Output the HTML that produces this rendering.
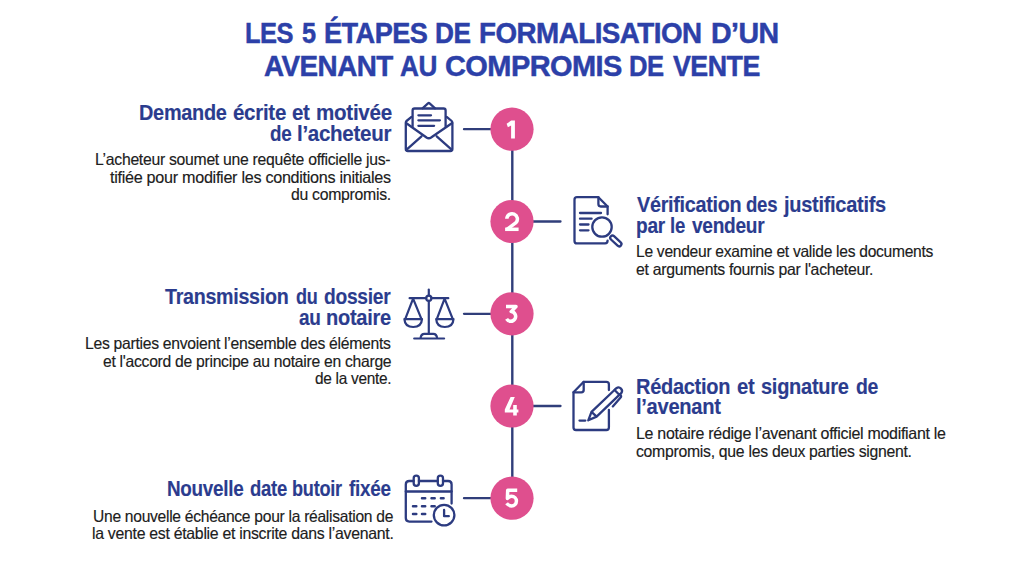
<!DOCTYPE html>
<html><head><meta charset="utf-8"><style>
html,body{margin:0;padding:0;background:#fff;}
body{width:1024px;height:572px;position:relative;overflow:hidden;font-family:"Liberation Sans",sans-serif;}
.t{position:absolute;white-space:nowrap;transform-origin:0 0;}
svg{position:absolute;left:0;top:0;}
</style></head><body>
<svg width="1024" height="572" viewBox="0 0 1024 572"><line x1="512.3" y1="129.2" x2="512.3" y2="498.2" stroke="#303e7a" stroke-width="2.4"/><line x1="464" y1="129.2" x2="495" y2="129.2" stroke="#303e7a" stroke-width="2.3" stroke-linecap="round"/><line x1="530" y1="221.5" x2="560.5" y2="221.5" stroke="#303e7a" stroke-width="2.3" stroke-linecap="round"/><line x1="464" y1="313.8" x2="495" y2="313.8" stroke="#303e7a" stroke-width="2.3" stroke-linecap="round"/><line x1="530" y1="406" x2="560.5" y2="406" stroke="#303e7a" stroke-width="2.3" stroke-linecap="round"/><line x1="464" y1="498.2" x2="495" y2="498.2" stroke="#303e7a" stroke-width="2.3" stroke-linecap="round"/><circle cx="512" cy="129.2" r="21.6" fill="#df4f8e"/><circle cx="512" cy="221.5" r="21.6" fill="#df4f8e"/><circle cx="512" cy="313.8" r="21.6" fill="#df4f8e"/><circle cx="512" cy="406" r="21.6" fill="#df4f8e"/><circle cx="512" cy="498.2" r="21.6" fill="#df4f8e"/><g fill="#fff">
<polygon points="511.2,120.6 514.9,120.6 514.9,138.6 511.1,138.6 511.1,125.4 507.9,127.2 506.6,123.8"/>
<polygon points="510.6,397 514.8,397 509.5,409.4 513.2,409.4 513.2,405 516.8,405 516.8,409.4 518.4,409.4 518.4,412.6 516.8,412.6 516.8,415.6 513.2,415.6 513.2,412.6 504.8,412.6 504.8,409.4"/>
</g>
<g fill="none" stroke="#fff" stroke-width="3.5" stroke-linejoin="miter" stroke-linecap="butt">
<path d="M506.8,218.8 A5.3,5.3 0 1 1 516,222.6 L506.6,229.6" stroke-linejoin="round"/><path d="M505.1,229.3 L518.6,229.3"/>
<path d="M506,306.6 L516,306.6 L511.2,311.6 A4.85,4.85 0 1 1 506.6,318.9" stroke-linejoin="round"/>
<path d="M517.2,490.2 L507.7,490.2 L507.4,498.4 C508.6,496.9 510,496.2 511.6,496.2 A4.85,4.85 0 0 1 511.6,505.9 C509.6,505.9 507.9,505 506.6,503.3" stroke-linejoin="round"/>
</g><g fill="none" stroke="#2c3b80" stroke-width="2.3" stroke-linecap="round" stroke-linejoin="round">
<path d="M411.5,116.9 L406.5,121 Q405.8,121.6 405.8,123 L405.8,149 Q405.8,151 407.8,151 L450.4,151 Q452.4,151 452.4,149 L452.4,123 Q452.4,121.6 451.7,121 L446.7,116.9"/>
<path d="M422.5,108.3 L428,103.4 Q428.8,102.7 429.6,103.4 L435.1,108.3"/>
<path d="M412.6,126.5 L412.6,110.5 Q412.6,108.5 414.6,108.5 L443.6,108.5 Q445.6,108.5 445.6,110.5 L445.6,126.5"/>
<path d="M406,123 L426.5,137.5 Q428.8,139 431.1,137.5 L452.2,123"/>
<path d="M406.3,149.9 L421.5,136.3 M451.9,149.9 L436.7,136.3"/>
<path d="M418.4,115.3 L431,115.3 M418.4,120.3 L439.9,120.3 M418.4,125.8 L434.1,125.8"/>
</g><g fill="none" stroke="#2c3b80" stroke-width="2.3" stroke-linecap="round" stroke-linejoin="round">
<path d="M607.6,214.3 L607.6,206.5 L598.4,197.2 L577,197.2 Q574.5,197.2 574.5,199.7 L574.5,240.9 Q574.5,243.4 577,243.4 L605.1,243.4 Q607.6,243.4 607.6,240.6"/>
<path d="M598.4,197.2 L598.4,204.1 Q598.4,206.5 600.8,206.5 L607.6,206.5"/>
<path d="M580,213 L601,213 M580,218.7 L591.6,218.7 M580,224.5 L588.5,224.5 M580,230.3 L588.5,230.3"/>
<circle cx="602" cy="227" r="9.7"/>
<rect x="609" y="238.7" width="13.6" height="4.5" rx="2.25" transform="rotate(43 615.8 241)"/>
</g><g fill="none" stroke="#2c3b80" stroke-width="2.2" stroke-linecap="round" stroke-linejoin="round">
<path d="M428.8,289.5 L428.8,295.5"/>
<circle cx="428.8" cy="298.2" r="2.6"/>
<path d="M409.6,298.2 L426.2,298.2 M431.4,298.2 L448.3,298.2"/>
<path d="M428.8,300.8 L428.8,333.5"/>
<path d="M414.2,338.5 L444.1,338.5 M420.5,338.3 Q421,333.8 424.5,333.8 L433.3,333.8 Q436.6,333.8 437.2,338.3"/>
<path d="M405.2,319.1 L413.1,298.7 L421.5,319.1"/>
<path d="M404.4,319.1 L422,319.1 Q421.5,327 413.2,327 Q404.9,327 404.4,319.1"/>
<path d="M436.8,319.1 L444.6,298.7 L452.8,319.1"/>
<path d="M436.2,319.1 L453.5,319.1 Q453,327 444.8,327 Q436.7,327 436.2,319.1"/>
</g><g fill="none" stroke="#2c3b80" stroke-width="2.3" stroke-linecap="round" stroke-linejoin="round">
<path d="M608.9,390 L608.9,384.3 Q608.9,381.8 606.4,381.8 L583.7,381.8 L573.5,392.3 L573.5,427.5 Q573.5,430 576,430 L606.4,430 Q608.9,430 608.9,427.5 L608.9,409.8"/>
<path d="M583.7,381.8 L583.7,390 Q583.7,392.3 581.4,392.3 L573.5,392.3"/>
<path d="M579.5,420.6 L585.3,420.6"/>
<path d="M588.3,420.3 L591.5,411.8 L615,389.5 M588.3,420.3 L596.6,416.6 L619.6,394.7 M591.5,411.8 L596.6,416.6"/>
<path d="M615,389.5 L616.4,388.2 A3.5,3.5 0 0 1 621.2,393.2 L619.6,394.7 M614.6,390 L619.3,394.8"/>
<path d="M620.3,394.8 Q621.8,396.4 620.4,397.8 L612.8,406.4"/>
</g><g fill="none" stroke="#2c3b80" stroke-width="2.3" stroke-linecap="round" stroke-linejoin="round">
<path d="M451.6,503.6 L451.6,484.5 Q451.6,481 448.1,481 L443,481 M437.8,481 L418.9,481 M413.7,481 L409.3,481 Q405.8,481 405.8,484.5 L405.8,518.1 Q405.8,521.6 409.3,521.6 L431.5,521.6"/>
<path d="M405.8,491.5 L451.6,491.5"/>
<rect x="413.7" y="475.6" width="5.2" height="10.2" rx="2.6"/>
<rect x="437.8" y="475.6" width="5.2" height="10.2" rx="2.6"/>
<circle cx="444.1" cy="515.1" r="10.3"/>
<path d="M444.1,509.9 L444.1,516.2 L448.8,516.2"/>
</g>
<g stroke="#2c3b80" stroke-width="2.5" stroke-linecap="round">
<path d="M422,498.3 L425.2,498.3 M431.5,498.3 L434.7,498.3 M440.9,498.3 L443.6,498.3 M413,506.2 L416.3,506.2 M422,506.2 L425.2,506.2 M431.5,506.2 L434.7,506.2 M413,514 L416.3,514 M422,514 L425.2,514"/>
</g></svg>
<div class='t' style='left:245.46px;top:18.04px;font-size:30.5px;line-height:30.5px;font-weight:700;color:#2c40a8;transform:scale(0.8351,0.96);letter-spacing:-0.6px;word-spacing:0px;-webkit-text-stroke:0.5px #2c40a8'>LES</div><div class='t' style='left:301.70px;top:18.04px;font-size:30.5px;line-height:30.5px;font-weight:700;color:#2c40a8;transform:scale(0.8294,0.96);letter-spacing:-0.6px;word-spacing:0px;-webkit-text-stroke:0.5px #2c40a8'>5</div><div class='t' style='left:323.81px;top:18.04px;font-size:30.5px;line-height:30.5px;font-weight:700;color:#2c40a8;transform:scale(0.8896,0.96);letter-spacing:-0.6px;word-spacing:0px;-webkit-text-stroke:0.5px #2c40a8'>ÉTAPES</div><div class='t' style='left:434.74px;top:18.04px;font-size:30.5px;line-height:30.5px;font-weight:700;color:#2c40a8;transform:scale(0.8600,0.96);letter-spacing:-0.6px;word-spacing:0px;-webkit-text-stroke:0.5px #2c40a8'>DE</div><div class='t' style='left:478.73px;top:18.04px;font-size:30.5px;line-height:30.5px;font-weight:700;color:#2c40a8;transform:scale(0.9116,0.96);letter-spacing:-0.6px;word-spacing:0px;-webkit-text-stroke:0.5px #2c40a8'>FORMALISATION</div><div class='t' style='left:711.26px;top:18.04px;font-size:30.5px;line-height:30.5px;font-weight:700;color:#2c40a8;transform:scale(0.9371,0.96);letter-spacing:-0.6px;word-spacing:0px;-webkit-text-stroke:0.5px #2c40a8'>D’UN</div><div class='t' style='left:263.60px;top:51.04px;font-size:30.5px;line-height:30.5px;font-weight:700;color:#2c40a8;transform:scale(0.9134,0.96);letter-spacing:-0.6px;word-spacing:0px;-webkit-text-stroke:0.5px #2c40a8'>AVENANT</div><div class='t' style='left:400.02px;top:51.04px;font-size:30.5px;line-height:30.5px;font-weight:700;color:#2c40a8;transform:scale(0.8586,0.96);letter-spacing:-0.6px;word-spacing:0px;-webkit-text-stroke:0.5px #2c40a8'>AU</div><div class='t' style='left:444.95px;top:51.04px;font-size:30.5px;line-height:30.5px;font-weight:700;color:#2c40a8;transform:scale(0.9503,0.96);letter-spacing:-0.6px;word-spacing:0px;-webkit-text-stroke:0.5px #2c40a8'>COMPROMIS</div><div class='t' style='left:629.46px;top:51.04px;font-size:30.5px;line-height:30.5px;font-weight:700;color:#2c40a8;transform:scale(0.8400,0.96);letter-spacing:-0.6px;word-spacing:0px;-webkit-text-stroke:0.5px #2c40a8'>DE</div><div class='t' style='left:672.50px;top:51.04px;font-size:30.5px;line-height:30.5px;font-weight:700;color:#2c40a8;transform:scale(0.8788,0.96);letter-spacing:-0.6px;word-spacing:0px;-webkit-text-stroke:0.5px #2c40a8'>VENTE</div><div class='t' style='left:139.17px;top:103.10px;font-size:21.5px;line-height:21.5px;font-weight:700;color:#2b3c8e;transform:scale(0.9255,1);letter-spacing:-0.3px;word-spacing:0px;-webkit-text-stroke:0.15px #2b3c8e'>Demande</div><div class='t' style='left:233.20px;top:103.10px;font-size:21.5px;line-height:21.5px;font-weight:700;color:#2b3c8e;transform:scale(0.9536,1);letter-spacing:-0.3px;word-spacing:0px;-webkit-text-stroke:0.15px #2b3c8e'>écrite</div><div class='t' style='left:292.20px;top:103.10px;font-size:21.5px;line-height:21.5px;font-weight:700;color:#2b3c8e;transform:scale(0.9526,1);letter-spacing:-0.3px;word-spacing:0px;-webkit-text-stroke:0.15px #2b3c8e'>et</div><div class='t' style='left:315.64px;top:103.10px;font-size:21.5px;line-height:21.5px;font-weight:700;color:#2b3c8e;transform:scale(0.9577,1);letter-spacing:-0.3px;word-spacing:0px;-webkit-text-stroke:0.15px #2b3c8e'>motivée</div><div class='t' style='left:270.00px;top:124.40px;font-size:21.5px;line-height:21.5px;font-weight:700;color:#2b3c8e;transform:scale(0.8760,1);letter-spacing:-0.3px;word-spacing:0px;-webkit-text-stroke:0.15px #2b3c8e'>de</div><div class='t' style='left:297.14px;top:124.40px;font-size:21.5px;line-height:21.5px;font-weight:700;color:#2b3c8e;transform:scale(0.9551,1);letter-spacing:-0.3px;word-spacing:0px;-webkit-text-stroke:0.15px #2b3c8e'>l’acheteur</div><div class='t' style='left:94.64px;top:151.40px;font-size:16.5px;line-height:16.5px;font-weight:400;color:#202020;transform:scale(0.9555,1);letter-spacing:-0.3px;word-spacing:0px;-webkit-text-stroke:0.15px #202020'>L’acheteur soumet une requête officielle jus-</div><div class='t' style='left:109.80px;top:168.70px;font-size:16.5px;line-height:16.5px;font-weight:400;color:#202020;transform:scale(0.9805,1);letter-spacing:-0.3px;word-spacing:0px;-webkit-text-stroke:0.15px #202020'>tifiée pour modifier les conditions initiales</div><div class='t' style='left:291.30px;top:186.40px;font-size:16.5px;line-height:16.5px;font-weight:400;color:#202020;transform:scale(0.9577,1);letter-spacing:-0.3px;word-spacing:0px;-webkit-text-stroke:0.15px #202020'>du compromis.</div><div class='t' style='left:636.80px;top:195.00px;font-size:21.5px;line-height:21.5px;font-weight:700;color:#2b3c8e;transform:scale(0.9195,1);letter-spacing:-0.3px;word-spacing:0px;-webkit-text-stroke:0.15px #2b3c8e'>Vérification</div><div class='t' style='left:746.49px;top:195.00px;font-size:21.5px;line-height:21.5px;font-weight:700;color:#2b3c8e;transform:scale(0.8643,1);letter-spacing:-0.3px;word-spacing:0px;-webkit-text-stroke:0.15px #2b3c8e'>des</div><div class='t' style='left:783.73px;top:195.00px;font-size:21.5px;line-height:21.5px;font-weight:700;color:#2b3c8e;transform:scale(0.9297,1);letter-spacing:-0.3px;word-spacing:0px;-webkit-text-stroke:0.15px #2b3c8e'>justificatifs</div><div class='t' style='left:635.91px;top:216.10px;font-size:21.5px;line-height:21.5px;font-weight:700;color:#2b3c8e;transform:scale(0.8875,1);letter-spacing:-0.3px;word-spacing:0px;-webkit-text-stroke:0.15px #2b3c8e'>par</div><div class='t' style='left:670.44px;top:216.10px;font-size:21.5px;line-height:21.5px;font-weight:700;color:#2b3c8e;transform:scale(0.8647,1);letter-spacing:-0.3px;word-spacing:0px;-webkit-text-stroke:0.15px #2b3c8e'>le</div><div class='t' style='left:691.80px;top:216.10px;font-size:21.5px;line-height:21.5px;font-weight:700;color:#2b3c8e;transform:scale(0.8878,1);letter-spacing:-0.3px;word-spacing:0px;-webkit-text-stroke:0.15px #2b3c8e'>vendeur</div><div class='t' style='left:635.75px;top:243.10px;font-size:16.5px;line-height:16.5px;font-weight:400;color:#202020;transform:scale(0.9463,1);letter-spacing:-0.3px;word-spacing:0px;-webkit-text-stroke:0.15px #202020'>Le vendeur examine et valide les documents</div><div class='t' style='left:636.40px;top:260.50px;font-size:16.5px;line-height:16.5px;font-weight:400;color:#202020;transform:scale(0.9587,1);letter-spacing:-0.3px;word-spacing:0px;-webkit-text-stroke:0.15px #202020'>et arguments fournis par l'acheteur.</div><div class='t' style='left:165.20px;top:287.20px;font-size:21.5px;line-height:21.5px;font-weight:700;color:#2b3c8e;transform:scale(0.9141,1);letter-spacing:-0.3px;word-spacing:0px;-webkit-text-stroke:0.15px #2b3c8e'>Transmission</div><div class='t' style='left:295.75px;top:287.20px;font-size:21.5px;line-height:21.5px;font-weight:700;color:#2b3c8e;transform:scale(0.8397,1);letter-spacing:-0.3px;word-spacing:0px;-webkit-text-stroke:0.15px #2b3c8e'>du</div><div class='t' style='left:324.30px;top:287.20px;font-size:21.5px;line-height:21.5px;font-weight:700;color:#2b3c8e;transform:scale(0.8933,1);letter-spacing:-0.3px;word-spacing:0px;-webkit-text-stroke:0.15px #2b3c8e'>dossier</div><div class='t' style='left:299.00px;top:307.50px;font-size:21.5px;line-height:21.5px;font-weight:700;color:#2b3c8e;transform:scale(0.8833,1);letter-spacing:-0.3px;word-spacing:0px;-webkit-text-stroke:0.15px #2b3c8e'>au</div><div class='t' style='left:326.07px;top:307.50px;font-size:21.5px;line-height:21.5px;font-weight:700;color:#2b3c8e;transform:scale(0.9319,1);letter-spacing:-0.3px;word-spacing:0px;-webkit-text-stroke:0.15px #2b3c8e'>notaire</div><div class='t' style='left:85.35px;top:334.60px;font-size:16.5px;line-height:16.5px;font-weight:400;color:#202020;transform:scale(0.9531,1);letter-spacing:-0.3px;word-spacing:0px;-webkit-text-stroke:0.15px #202020'>Les parties envoient l’ensemble des éléments</div><div class='t' style='left:102.75px;top:352.60px;font-size:16.5px;line-height:16.5px;font-weight:400;color:#202020;transform:scale(0.9523,1);letter-spacing:-0.3px;word-spacing:0px;-webkit-text-stroke:0.15px #202020'>et l'accord de principe au notaire en charge</div><div class='t' style='left:315.40px;top:370.20px;font-size:16.5px;line-height:16.5px;font-weight:400;color:#202020;transform:scale(0.9333,1);letter-spacing:-0.3px;word-spacing:0px;-webkit-text-stroke:0.15px #202020'>de la vente.</div><div class='t' style='left:635.87px;top:377.20px;font-size:21.5px;line-height:21.5px;font-weight:700;color:#2b3c8e;transform:scale(0.9300,1);letter-spacing:-0.3px;word-spacing:0px;-webkit-text-stroke:0.15px #2b3c8e'>Rédaction</div><div class='t' style='left:736.60px;top:377.20px;font-size:21.5px;line-height:21.5px;font-weight:700;color:#2b3c8e;transform:scale(0.9421,1);letter-spacing:-0.3px;word-spacing:0px;-webkit-text-stroke:0.15px #2b3c8e'>et</div><div class='t' style='left:761.40px;top:377.20px;font-size:21.5px;line-height:21.5px;font-weight:700;color:#2b3c8e;transform:scale(0.9309,1);letter-spacing:-0.3px;word-spacing:0px;-webkit-text-stroke:0.15px #2b3c8e'>signature</div><div class='t' style='left:855.70px;top:377.20px;font-size:21.5px;line-height:21.5px;font-weight:700;color:#2b3c8e;transform:scale(0.9040,1);letter-spacing:-0.3px;word-spacing:0px;-webkit-text-stroke:0.15px #2b3c8e'>de</div><div class='t' style='left:635.87px;top:397.30px;font-size:21.5px;line-height:21.5px;font-weight:700;color:#2b3c8e;transform:scale(0.9344,1);letter-spacing:-0.3px;word-spacing:0px;-webkit-text-stroke:0.15px #2b3c8e'>l’avenant</div><div class='t' style='left:635.73px;top:425.00px;font-size:16.5px;line-height:16.5px;font-weight:400;color:#202020;transform:scale(0.9683,1);letter-spacing:-0.3px;word-spacing:0px;-webkit-text-stroke:0.15px #202020'>Le notaire rédige l’avenant officiel modifiant le</div><div class='t' style='left:636.40px;top:442.80px;font-size:16.5px;line-height:16.5px;font-weight:400;color:#202020;transform:scale(0.9575,1);letter-spacing:-0.3px;word-spacing:0px;-webkit-text-stroke:0.15px #202020'>compromis, que les deux parties signent.</div><div class='t' style='left:167.02px;top:478.80px;font-size:21.5px;line-height:21.5px;font-weight:700;color:#2b3c8e;transform:scale(0.8767,1);letter-spacing:-0.3px;word-spacing:0px;-webkit-text-stroke:0.15px #2b3c8e'>Nouvelle</div><div class='t' style='left:249.70px;top:478.80px;font-size:21.5px;line-height:21.5px;font-weight:700;color:#2b3c8e;transform:scale(0.8605,1);letter-spacing:-0.3px;word-spacing:0px;-webkit-text-stroke:0.15px #2b3c8e'>date</div><div class='t' style='left:292.36px;top:478.80px;font-size:21.5px;line-height:21.5px;font-weight:700;color:#2b3c8e;transform:scale(0.8441,1);letter-spacing:-0.3px;word-spacing:0px;-webkit-text-stroke:0.15px #2b3c8e'>butoir</div><div class='t' style='left:349.40px;top:478.80px;font-size:21.5px;line-height:21.5px;font-weight:700;color:#2b3c8e;transform:scale(0.8792,1);letter-spacing:-0.3px;word-spacing:0px;-webkit-text-stroke:0.15px #2b3c8e'>fixée</div><div class='t' style='left:92.55px;top:507.80px;font-size:16.5px;line-height:16.5px;font-weight:400;color:#202020;transform:scale(0.9465,1);letter-spacing:-0.3px;word-spacing:0px;-webkit-text-stroke:0.15px #202020'>Une nouvelle échéance pour la réalisation de</div><div class='t' style='left:91.74px;top:525.20px;font-size:16.5px;line-height:16.5px;font-weight:400;color:#202020;transform:scale(0.9603,1);letter-spacing:-0.3px;word-spacing:0px;-webkit-text-stroke:0.15px #202020'>la vente est établie et inscrite dans l’avenant.</div>
</body></html>
